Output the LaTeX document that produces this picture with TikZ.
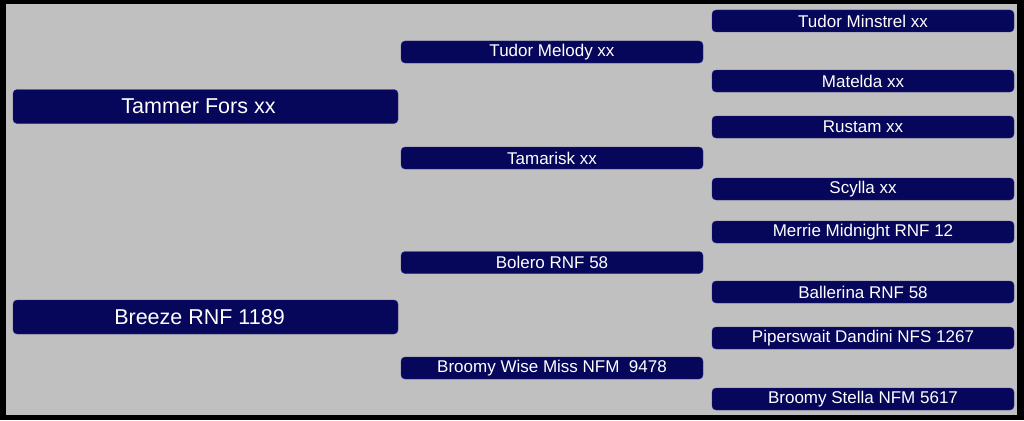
\documentclass[tikz,border=0pt]{standalone}
\usepackage{fontspec}
\setmainfont{Liberation Sans}
\usetikzlibrary{positioning}
\definecolor{cframe}{HTML}{000000}
\definecolor{cback}{HTML}{C0C0C0}
\definecolor{cbox}{HTML}{06065A}
\definecolor{cboxborder}{HTML}{2A2A96}
\begin{document}
\begin{tikzpicture}[
    x=1pt, y=-1pt,
    bignode/.style={draw=cboxborder, fill=cbox, rounded corners=4pt, align=center, text=white,
                    minimum width=385pt, minimum height=34pt, inner sep=0pt, font=\fontsize{21.5}{23}\selectfont},
    midnode/.style={draw=cboxborder, fill=cbox, rounded corners=4pt, align=center, text=white,
                    minimum width=302pt, minimum height=22pt, inner sep=0pt, font=\fontsize{17}{19}\selectfont},
    smallnode/.style={midnode}
]
\fill[cframe] (0,0) rectangle (1024,420);
\fill[cback] (6,4) rectangle (1017,415);
% parents
\node[bignode] (sire) at (205.5,106.5) {\hspace*{-14pt}Tammer Fors xx};
\node[bignode] (dam) at (205.5,317) {\hspace*{-12pt}Breeze RNF 1189};
% grandparents
\node[midnode] (ss) at (552,52) {Tudor Melody xx};
\node[midnode] (sd) at (552,158) {Tamarisk xx};
\node[midnode] (ds) at (552,262.5) {Bolero RNF 58};
\node[midnode] (dd) at (552,368) {Broomy Wise Miss NFM\ \ 9478};
% great-grandparents
\node[smallnode] (sss) at (863,21) {Tudor Minstrel xx};
\node[smallnode] (ssd) at (863,81) {Matelda xx};
\node[smallnode] (sds) at (863,127) {Rustam xx};
\node[smallnode] (sdd) at (863,189) {Scylla xx};
\node[smallnode] (dss) at (863,232) {Merrie Midnight RNF 12};
\node[smallnode] (dsd) at (863,292) {Ballerina RNF 58};
\node[smallnode] (dds) at (863,338) {Piperswait Dandini NFS 1267};
\node[smallnode] (ddd) at (863,399) {Broomy Stella NFM 5617};
\end{tikzpicture}
\end{document}
